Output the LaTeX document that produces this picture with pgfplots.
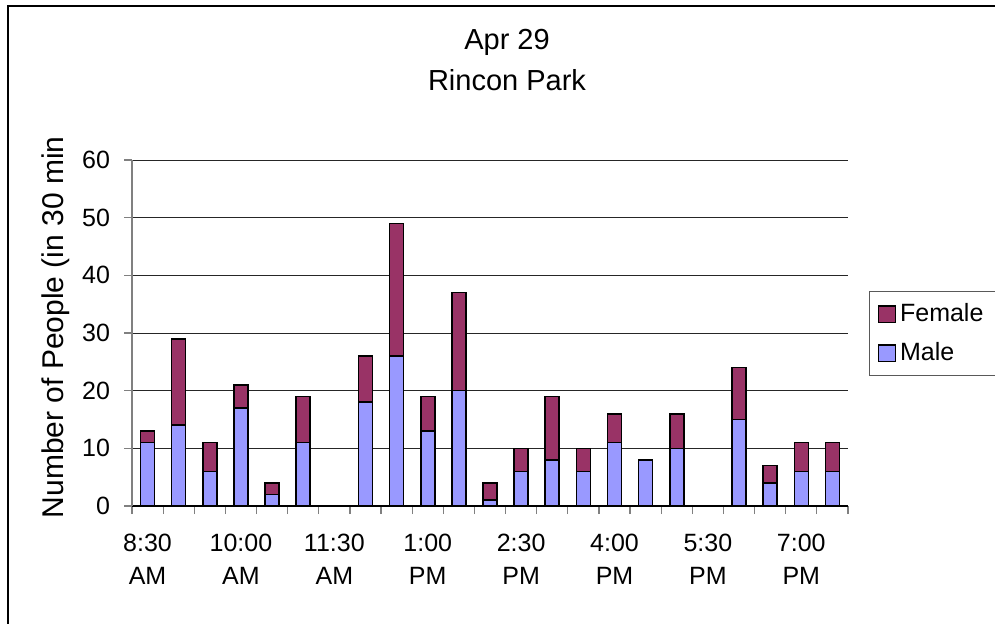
\documentclass[border=0pt]{standalone}
\usepackage{fontspec}
\setmainfont{Liberation Sans}
\usepackage{pgfplots}
\usepackage{pgfplotstable}
\pgfplotsset{compat=1.18}
\definecolor{male}{HTML}{9999FF}
\definecolor{female}{HTML}{993366}
\pgfplotstableread{
x male female
0 11 2
1 14 15
2 6 5
3 17 4
4 2 2
5 11 8
6 0 0
7 18 8
8 26 23
9 13 6
10 20 17
11 1 3
12 6 4
13 8 11
14 6 4
15 11 5
16 8 0
17 10 6
18 0 0
19 15 9
20 4 3
21 6 5
22 6 5
}\datatable
\begin{document}
\begin{tikzpicture}
\path[use as bounding box] (0pt,0pt) rectangle (497.5pt,-311.5pt);
\clip (0pt,0pt) rectangle (497.5pt,-311.5pt);
\fill[white] (0pt,0pt) rectangle (497.5pt,-311.5pt);
\draw[line width=0.8pt] (4pt,-330pt) -- (4pt,-3pt) -- (510pt,-3pt);
\node[font=\fontsize{14.5}{17}\selectfont] at (253.5pt,-21pt) {Apr 29};
\node[font=\fontsize{14.5}{17}\selectfont] at (253.5pt,-40pt) {Rincon Park};
\begin{scope}
\clip (0pt,-68.5pt) rectangle (60pt,-311.5pt);
\node[rotate=90, anchor=base west, inner sep=0pt, font=\fontsize{15}{18}\selectfont] at (31.6pt,-259.3pt) {Number of People (in 30 min)};
\end{scope}
\begin{axis}[
  at={(66pt,-253pt)}, anchor=south west,
  scale only axis, width=358pt, height=173pt,
  xmin=-0.5, xmax=22.5, ymin=0, ymax=60,
  ybar stacked, bar width=7pt,
  axis x line*=bottom, axis y line*=left,
  x axis line style={black, -, line width=0.6pt},
  y axis line style={gray, -, line width=0.6pt},
  ytick={0,10,...,60},
  ymajorgrids, grid style={black!85, line width=0.5pt},
  xtick={-0.5,0.5,...,22.5}, xticklabels={},
  extra x ticks={0,3,6,9,12,15,18,21},
  extra x tick labels={8:30\\AM,10:00\\AM,11:30\\AM,1:00\\PM,2:30\\PM,4:00\\PM,5:30\\PM,7:00\\PM},
  extra x tick style={major tick length=0pt, grid=none},
  xticklabel style={align=center, font=\fontsize{12.5}{16.5}\selectfont, yshift=-10.5pt},
  yticklabel style={font=\fontsize{12.5}{15}\selectfont, xshift=-3.5pt},
  /pgf/number format/assume math mode=true,
  tick align=outside, major tick length=4pt,
  every tick/.style={gray, line width=0.6pt},
  legend style={at={(1.0293,0.6214)}, anchor=north west, draw=gray!70!black, line width=0.6pt,
    font=\fontsize{12.5}{15}\selectfont, inner xsep=4pt, inner ysep=4pt, row sep=5pt,
    cells={anchor=west}},
  reverse legend,
  clip=false,
]
\addplot[fill=male, draw=black, line width=0.8pt,
  legend image code/.code={\draw[fill=male, draw=black, line width=0.75pt] (0pt,-4.2pt) rectangle (8.5pt,4.2pt);}]
  table[x=x, y=male] {\datatable};
\addlegendentry{Male}
\addplot[fill=female, draw=black, line width=0.8pt,
  legend image code/.code={\draw[fill=female, draw=black, line width=0.75pt] (0pt,-4.2pt) rectangle (8.5pt,4.2pt);}]
  table[x=x, y=female] {\datatable};
\addlegendentry{Female}
\end{axis}
\end{tikzpicture}
\end{document}
